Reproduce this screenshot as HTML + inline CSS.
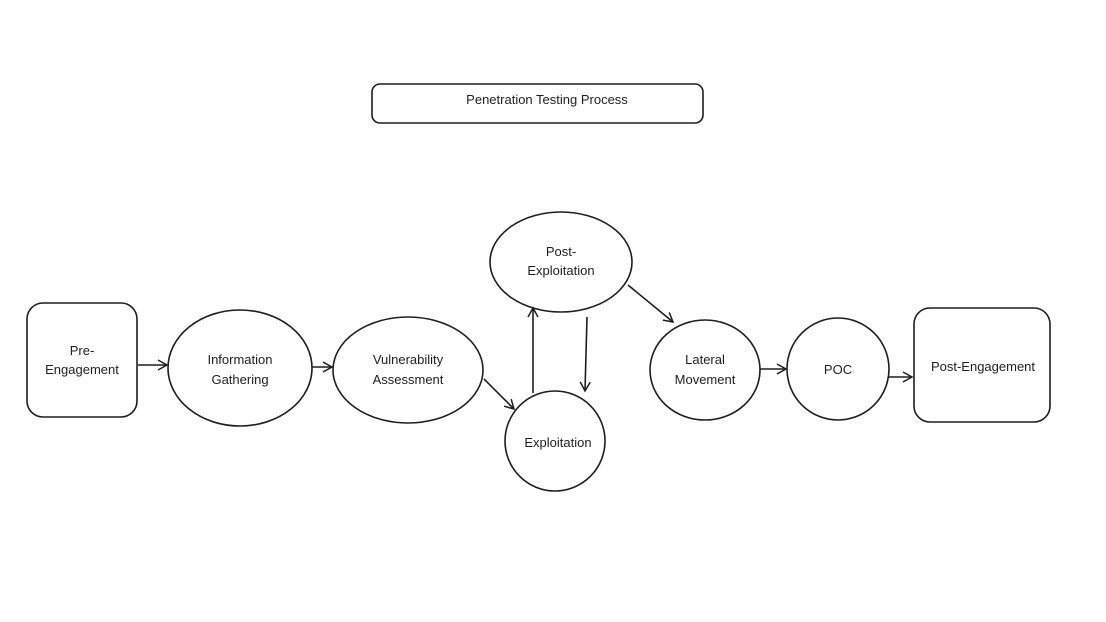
<!DOCTYPE html>
<html><head><meta charset="utf-8"><style>
html,body{margin:0;padding:0;background:#fff;}
svg{display:block;}
text{font-family:"Liberation Sans",sans-serif;font-size:13px;fill:#1e1e1e;text-anchor:middle;}
</style></head><body>
<svg width="1106" height="622" viewBox="0 0 1106 622" xmlns="http://www.w3.org/2000/svg">
<defs><marker id="a" markerWidth="12" markerHeight="12" refX="10" refY="6" orient="auto" markerUnits="userSpaceOnUse"><path d="M1,1 L10,6 L1,11" fill="none" stroke="#1e1e1e" stroke-width="1.5"/></marker></defs>
<g fill="none" stroke="#1e1e1e" stroke-width="1.6">
<rect x="372" y="84" width="331" height="39" rx="8"/>
<rect x="27" y="303" width="110" height="114" rx="16"/>
<ellipse cx="240" cy="368" rx="72" ry="58"/>
<ellipse cx="408" cy="370" rx="75" ry="53"/>
<circle cx="555" cy="441" r="50"/>
<ellipse cx="561" cy="262" rx="71" ry="50"/>
<ellipse cx="705" cy="370" rx="55" ry="50"/>
<circle cx="838" cy="369" r="51"/>
<rect x="914" y="308" width="136" height="114" rx="16"/>
<path d="M138,365 L167,365" marker-end="url(#a)"/>
<path d="M312,367 L332,367" marker-end="url(#a)"/>
<path d="M484,379 L514,409" marker-end="url(#a)"/>
<path d="M533,393 L533,308" marker-end="url(#a)"/>
<path d="M587,317 L585,391" marker-end="url(#a)"/>
<path d="M628,285 L673,322" marker-end="url(#a)"/>
<path d="M760,369 L786,369" marker-end="url(#a)"/>
<path d="M889,377 L912,377" marker-end="url(#a)"/>
</g>
<text x="547" y="104">Penetration Testing Process</text>
<text x="82" y="355">Pre-</text>
<text x="82" y="374">Engagement</text>
<text x="240" y="364">Information</text>
<text x="240" y="384">Gathering</text>
<text x="408" y="364">Vulnerability</text>
<text x="408" y="384">Assessment</text>
<text x="558" y="447">Exploitation</text>
<text x="561" y="256">Post-</text>
<text x="561" y="275">Exploitation</text>
<text x="705" y="364">Lateral</text>
<text x="705" y="384">Movement</text>
<text x="838" y="374">POC</text>
<text x="983" y="371">Post-Engagement</text>
</svg>
</body></html>
